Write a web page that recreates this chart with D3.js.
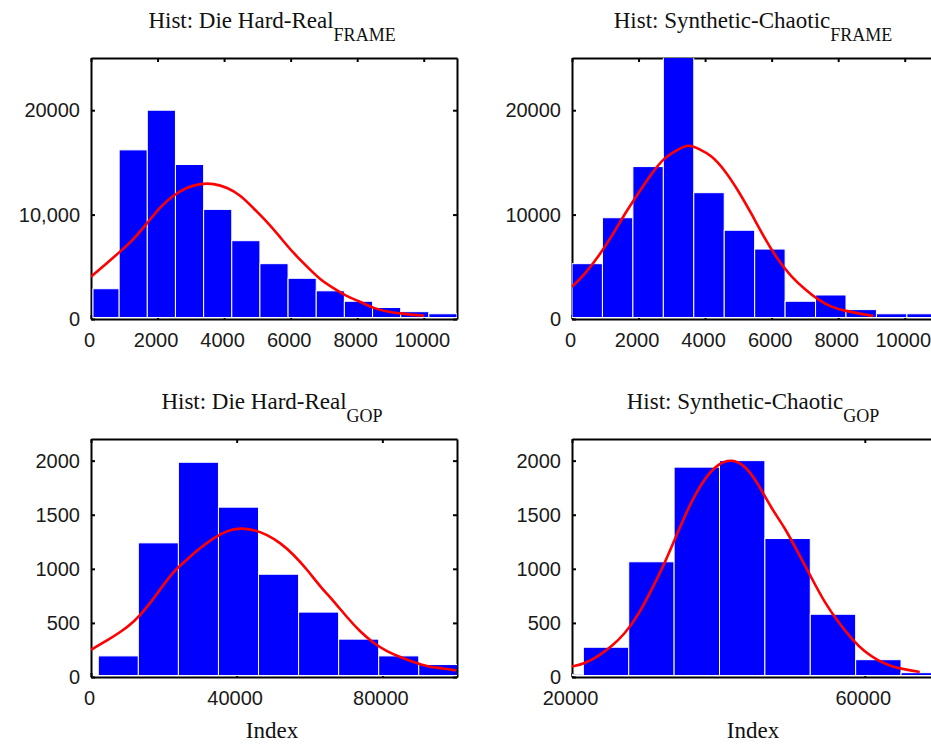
<!DOCTYPE html>
<html>
<head>
<meta charset="utf-8">
<script src="https://cdn.jsdelivr.net/npm/d3@7"></script>
<style>
	body { margin: 0; background: #fff; }
	svg { display: block; }
	.axis path, .axis line { stroke: #000; stroke-width: 2; }
	.axis text { font-family: "Liberation Sans", Arial, sans-serif; font-size: 20px; fill: #1a1a1a; }
	.title, .xlabel { font-family: "Liberation Serif", "Times New Roman", serif; fill: #111; }
</style>
</head>
<body>
<svg id="chart" width="931" height="745"></svg>
<script>
// Die Hard-Real, frame sizes
var dhFrameEdges = [60, 846, 1692, 2538, 3385, 4231, 5077, 5923, 6769, 7615, 8462, 9308, 10154, 11000];
var dhFrameCounts = [2900, 16200, 20000, 14800, 10500, 7500, 5300, 3900, 2700, 1700, 1100, 700, 500];
var dhFrameFitX = [0, 470, 870, 1280, 1680, 2080, 2480, 2880, 3280, 3690, 4090, 4490, 4890, 5290, 5690, 6090, 6500, 6900, 7300, 7700, 8100, 8500, 8910, 9310, 9710, 10010];
var dhFrameFitY = [4050, 5330, 6440, 7620, 9150, 10750, 11870, 12600, 12980, 12980, 12600, 11870, 10590, 9310, 7820, 6280, 5000, 3730, 2930, 2130, 1650, 1010, 700, 540, 380, 320];

// Synthetic-Chaotic, frame sizes
var scFrameEdges = [0, 915, 1830, 2745, 3660, 4575, 5490, 6405, 7320, 8235, 9150, 10065, 10980];
var scFrameCounts = [5300, 9700, 14600, 26500, 12100, 8500, 6700, 1700, 2300, 900, 500, 500];
var scFrameFitX = [0, 390, 790, 1190, 1590, 1990, 2390, 2790, 3190, 3490, 3790, 4190, 4590, 4990, 5390, 5790, 6190, 6590, 7000, 7400, 7800, 8200, 8600, 9050];
var scFrameFitY = [3090, 4300, 5960, 7880, 10110, 12030, 13940, 15530, 16240, 16750, 16330, 15690, 14260, 12340, 10110, 7720, 5650, 4050, 2840, 1820, 1120, 790, 540, 290];

// Die Hard-Real, GOP sizes
var dhGopEdges = [2000, 13000, 24000, 35000, 46000, 57000, 68000, 79000, 90000, 101000];
var dhGopCounts = [195, 1240, 1985, 1570, 950, 600, 350, 195, 115];
var dhGopFitX = [0, 4400, 8000, 11700, 15400, 19000, 22700, 26400, 30000, 33700, 37300, 41000, 44700, 48300, 52000, 55600, 59300, 63000, 66600, 70300, 73900, 77600, 81300, 84900, 88600, 92200, 95900, 100300];
var dhGopFitY = [251, 337, 413, 505, 643, 811, 980, 1087, 1194, 1286, 1353, 1378, 1362, 1317, 1240, 1133, 995, 833, 704, 551, 419, 312, 236, 184, 138, 98, 83, 61];

// Synthetic-Chaotic, GOP sizes
var scGopEdges = [15350, 21550, 27750, 33950, 40150, 46350, 52550, 58750, 64950, 71150];
var scGopCounts = [25, 275, 1065, 1940, 2000, 1280, 580, 160, 40];
var scGopFitX = [20000, 21700, 23600, 25400, 27200, 29000, 30800, 32700, 34500, 36300, 38100, 40000, 41800, 43600, 45400, 47200, 49100, 50900, 52700, 54500, 56400, 58200, 60000, 61800, 63600, 65500, 67500];
var scGopFitY = [98, 122, 193, 282, 398, 566, 796, 1056, 1347, 1623, 1837, 1975, 2015, 1960, 1791, 1562, 1378, 1148, 919, 689, 505, 352, 230, 153, 98, 70, 46];

// tick values and labels
var frameXTicks = [0, 2000, 4000, 6000, 8000, 10000];
var frameXLabels = ["0", "2000", "4000", "6000", "8000", "10000"];
var frameYTicks = [0, 10000, 20000];
var dhFrameYLabels = ["0", "10,000", "20000"];
var scFrameYLabels = ["0", "10000", "20000"];
var gopYTicks = [0, 500, 1000, 1500, 2000];
var gopYLabels = ["0", "500", "1000", "1500", "2000"];
var dhGopXTicks = [0, 40000, 80000];
var dhGopXLabels = ["0", "40000", "80000"];
var scGopXTicks = [20000, 60000];
var scGopXLabels = ["20000", "60000"];

var panels = [
	{ title: "Hist: Die Hard-Real", sub: "FRAME", left: 91, top: 58, width: 366, height: 261,
		xDomain: [0, 11000], yDomain: [0, 25000], edges: dhFrameEdges, counts: dhFrameCounts,
		fitX: dhFrameFitX, fitY: dhFrameFitY, xTicks: frameXTicks, xLabels: frameXLabels,
		yTicks: frameYTicks, yLabels: dhFrameYLabels, xTitle: null },
	{ title: "Hist: Synthetic-Chaotic", sub: "FRAME", left: 572, top: 58, width: 366, height: 261,
		xDomain: [0, 11000], yDomain: [0, 25000], edges: scFrameEdges, counts: scFrameCounts,
		fitX: scFrameFitX, fitY: scFrameFitY, xTicks: frameXTicks, xLabels: frameXLabels,
		yTicks: frameYTicks, yLabels: scFrameYLabels, xTitle: null },
	{ title: "Hist: Die Hard-Real", sub: "GOP", left: 91, top: 439, width: 366, height: 238,
		xDomain: [0, 100500], yDomain: [0, 2200], edges: dhGopEdges, counts: dhGopCounts,
		fitX: dhGopFitX, fitY: dhGopFitY, xTicks: dhGopXTicks, xLabels: dhGopXLabels,
		yTicks: gopYTicks, yLabels: gopYLabels, xTitle: "Index" },
	{ title: "Hist: Synthetic-Chaotic", sub: "GOP", left: 572, top: 439, width: 366, height: 238,
		xDomain: [20000, 70000], yDomain: [0, 2200], edges: scGopEdges, counts: scGopCounts,
		fitX: scGopFitX, fitY: scGopFitY, xTicks: scGopXTicks, xLabels: scGopXLabels,
		yTicks: gopYTicks, yLabels: gopYLabels, xTitle: "Index" }
];

var svg = d3.select("#chart");

function drawPanel(p, n) {
	var x = d3.scaleLinear().domain(p.xDomain).range([0, p.width]);
	var y = d3.scaleLinear().domain(p.yDomain).range([p.height, 0]);
	var g = svg.append("g").attr("transform", "translate(" + p.left + "," + p.top + ")");

	svg.append("clipPath").attr("id", "clip" + n)
		.append("rect").attr("width", p.width).attr("height", p.height);

	// frame: four axes with short inward ticks
	g.append("g").attr("class", "axis")
		.attr("transform", "translate(0," + p.height + ")")
		.call(d3.axisBottom(x).tickValues(p.xTicks)
			.tickFormat(function(d, i) { return p.xLabels[i]; })
			.tickSize(-4).tickSizeOuter(0).tickPadding(14))
		.selectAll("text").attr("dx", -2);
	g.append("g").attr("class", "axis")
		.call(d3.axisTop(x).tickValues(p.xTicks).tickFormat("").tickSize(-4).tickSizeOuter(0));
	g.append("g").attr("class", "axis")
		.call(d3.axisLeft(y).tickValues(p.yTicks)
			.tickFormat(function(d, i) { return p.yLabels[i]; })
			.tickSize(-4).tickSizeOuter(0).tickPadding(11));
	g.append("g").attr("class", "axis")
		.attr("transform", "translate(" + p.width + ",0)")
		.call(d3.axisRight(y).tickValues(p.yTicks).tickFormat("").tickSize(-4).tickSizeOuter(0));
	g.selectAll(".axis").attr("font-size", null).attr("font-family", null);

	// histogram bars
	var plot = g.append("g").attr("clip-path", "url(#clip" + n + ")");
	plot.selectAll("rect.bar")
		.data(p.counts)
		.join("rect")
		.attr("class", "bar")
		.attr("x", function(d, i) { return x(p.edges[i]); })
		.attr("width", function(d, i) { return x(p.edges[i + 1]) - x(p.edges[i]); })
		.attr("y", function(d) { return y(d); })
		.attr("height", function(d) { return y(0) - 1.5 - y(d); })
		.attr("fill", "#0000ff")
		.attr("stroke", "#ffffff")
		.attr("stroke-width", 1);

	// fitted curve
	var line = d3.line()
		.x(function(d, i) { return x(p.fitX[i]); })
		.y(function(d) { return y(d); })
		.curve(d3.curveBasis);
	plot.append("path")
		.attr("d", line(p.fitY))
		.attr("fill", "none")
		.attr("stroke", "#ff0000")
		.attr("stroke-width", 2.6)
		.attr("stroke-linejoin", "round");

	// title with subscript
	var t = g.append("text").attr("class", "title")
		.attr("x", p.width / 2 - 2).attr("y", -30)
		.attr("text-anchor", "middle");
	t.append("tspan").attr("font-size", 23).text(p.title);
	t.append("tspan").attr("font-size", 18).attr("dy", 12.5).text(p.sub);

	if (p.xTitle) {
		g.append("text").attr("class", "xlabel")
			.attr("x", p.width / 2 - 2).attr("y", p.height + 61)
			.attr("text-anchor", "middle")
			.attr("font-size", 23)
			.text(p.xTitle);
	}
}

panels.forEach(drawPanel);
</script>
</body>
</html>
